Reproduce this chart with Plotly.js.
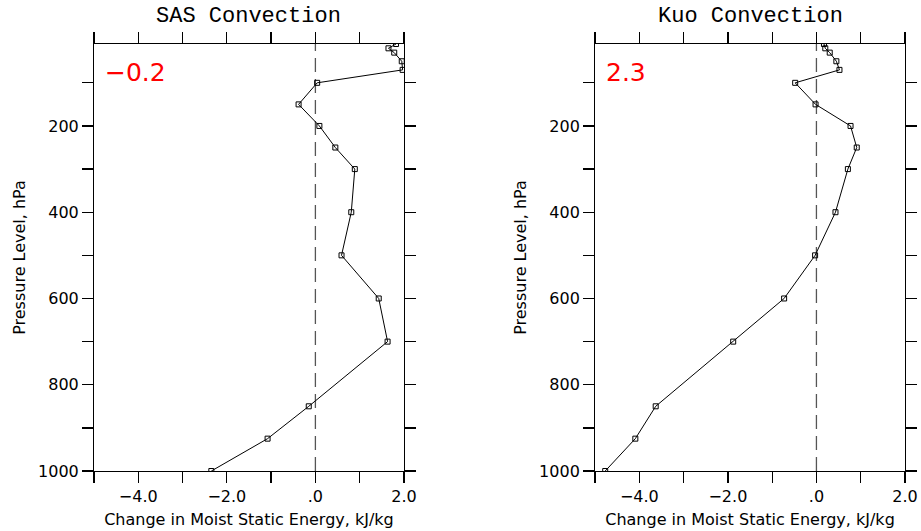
<!DOCTYPE html>
<html>
<head>
<meta charset="utf-8">
<script src="https://cdn.plot.ly/plotly-3.0.1.min.js"></script>
<style>html,body{margin:0;padding:0;background:#fff;}#chart{width:921px;height:531px;}</style>
</head>
<body>
<div id="chart"></div>
<script>
// Pressure levels (hPa)
const pressureLevels = [1000, 925, 850, 700, 600, 500, 400, 300, 250, 200, 150, 100, 70, 50, 30, 20, 10];
// Change in moist static energy (kJ/kg)
const sasValues = [-2.35, -1.08, -0.15, 1.63, 1.43, 0.59, 0.81, 0.89, 0.45, 0.09, -0.38, 0.04, 1.97, 1.95, 1.78, 1.65, 1.82];
const kuoValues = [-4.77, -4.09, -3.63, -1.88, -0.73, -0.03, 0.43, 0.71, 0.91, 0.77, -0.02, -0.48, 0.52, 0.45, 0.30, 0.20, 0.17];
const panelTitles = ["SAS Convection", "Kuo Convection"];
const panelTotals = ["\u22120.2", "2.3"];
const xTickVals = [-5, -4, -3, -2, -1, 0, 1, 2];
const xTickText = ["", "\u22124.0", "", "\u22122.0", "", ".0", "", "2.0"];
const yTickVals = [100, 200, 300, 400, 500, 600, 700, 800, 900, 1000];
const yTickText = ["", "200", "", "400", "", "600", "", "800", "", "1000"];
const xTitle = "Change in Moist Static Energy, kJ/kg";
const yTitle = "Pressure Level, hPa";

const tickFont = {family: "DejaVu Sans", size: 16, color: "#000"};
const titleFont = {family: "DejaVu Sans", size: 16, color: "#000"};

function lineTrace(x, ax) {
  return {
    x: x, y: pressureLevels, xaxis: ax.x, yaxis: ax.y,
    type: "scatter", mode: "lines+markers",
    line: {color: "#000", width: 1},
    marker: {symbol: "square-open", size: 5, color: "#000", line: {width: 1, color: "#000"}},
    hoverinfo: "skip", showlegend: false
  };
}
function zeroTrace(ax) {
  return {
    x: [0, 0], y: [1000, 10], xaxis: ax.x, yaxis: ax.y,
    type: "scatter", mode: "lines",
    line: {color: "#555", width: 1.3, dash: "14px,7px"},
    hoverinfo: "skip", showlegend: false
  };
}
const ax1 = {x: "x", y: "y"};
const ax2 = {x: "x2", y: "y2"};
const data = [zeroTrace(ax1), lineTrace(sasValues, ax1), zeroTrace(ax2), lineTrace(kuoValues, ax2)];

function xAxis(domain, anchor) {
  return {
    domain: domain, anchor: anchor, range: [-5, 2],
    tickmode: "array", tickvals: xTickVals, ticktext: xTickText,
    ticks: "outside", ticklen: 11, tickwidth: 1.3, tickcolor: "#000",
    showline: true, linecolor: "#000", linewidth: 1, mirror: "ticks",
    showgrid: false, zeroline: false, tickfont: tickFont,
    title: {text: xTitle, font: titleFont, standoff: 8}
  };
}
function yAxis(anchor) {
  return {
    anchor: anchor, range: [1000, 10], domain: [0, 1],
    tickmode: "array", tickvals: yTickVals, ticktext: yTickText,
    ticks: "outside", ticklen: 11, tickwidth: 1.3, tickcolor: "#000",
    showline: true, linecolor: "#000", linewidth: 1, mirror: "ticks",
    showgrid: false, zeroline: false, tickfont: tickFont,
    title: {text: yTitle, font: titleFont, standoff: 8}
  };
}
const d1 = [0, 0.3822], d2 = [0.6178, 1];
const panelTitleFont = {family: "Liberation Mono", size: 22, color: "#000"};
const layout = {
  width: 921, height: 531,
  margin: {l: 94, r: 16, t: 44, b: 60},
  paper_bgcolor: "#fff", plot_bgcolor: "#fff",
  showlegend: false,
  xaxis: xAxis(d1, "y"), yaxis: yAxis("x"),
  xaxis2: xAxis(d2, "y2"), yaxis2: yAxis("x2"),
  annotations: [
    {text: panelTitles[0], xref: "x domain", yref: "paper", x: 0.5, y: 1, yshift: 28, xanchor: "center", yanchor: "middle", showarrow: false, font: panelTitleFont},
    {text: panelTitles[1], xref: "x2 domain", yref: "paper", x: 0.5, y: 1, yshift: 28, xanchor: "center", yanchor: "middle", showarrow: false, font: panelTitleFont},
    {text: panelTotals[0], xref: "x domain", yref: "y domain", x: 0.03, y: 0.934, xanchor: "left", yanchor: "middle", showarrow: false, font: {family: "DejaVu Sans", size: 25, color: "#ff0000"}},
    {text: panelTotals[1], xref: "x2 domain", yref: "y2 domain", x: 0.03, y: 0.934, xanchor: "left", yanchor: "middle", showarrow: false, font: {family: "DejaVu Sans", size: 25, color: "#ff0000"}}
  ]
};
Plotly.newPlot("chart", data, layout, {displayModeBar: false, staticPlot: true});
</script>
</body>
</html>
